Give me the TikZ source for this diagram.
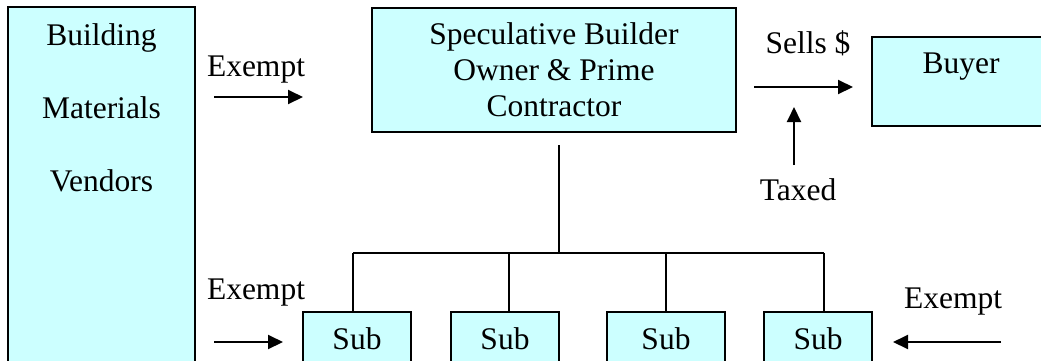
\documentclass[tikz,border=0pt]{standalone}
\usepackage{fontspec}
\setmainfont{LiberationSerif}[Extension=.ttf, UprightFont=*-Regular, BoldFont=*-Bold]
\usetikzlibrary{arrows.meta}
\definecolor{boxfill}{HTML}{CCFFFF}
\begin{document}
\begin{tikzpicture}[x=1pt,y=-1pt,
  box/.style={draw=black, line width=2pt, fill=boxfill, inner sep=0pt, outer sep=0pt},
  txt/.style={font=\rmfamily\fontsize{31.5}{36}\selectfont, inner sep=0pt, outer sep=0pt},
  arr/.style={line width=2pt, -{Triangle[length=15pt,width=14pt]}},
  conn/.style={line width=1.7pt}]
\useasboundingbox (0,0) rectangle (1041,360);
\clip (0,0) rectangle (1041,360);
% boxes
\node (vend) [box, minimum width=187pt, minimum height=393pt] at (101.5,203.5) {};
\node (vendt) [txt, align=center, font=\rmfamily\fontsize{31.5}{73}\selectfont] at (101.5,108) {Building\\Materials\\Vendors};
\node (spec) [box, minimum width=364pt, minimum height=124pt, align=center, txt] at (554,70) {Speculative Builder\\Owner \& Prime\\Contractor};
\node (buyer) [box, minimum width=178pt, minimum height=89pt] at (961,81.5) {};
\node (buyert) [txt, anchor=base] at (961,73) {Buyer};
\node (s1) [box, minimum width=108pt, minimum height=68pt] at (357,346) {};
\node (s2) [box, minimum width=108pt, minimum height=68pt] at (505,346) {};
\node (s3) [box, minimum width=118pt, minimum height=68pt] at (666,346) {};
\node (s4) [box, minimum width=108pt, minimum height=68pt] at (818,346) {};
\node (s1t) [txt, anchor=base] at (357,349) {Sub};
\node (s2t) [txt, anchor=base] at (505,349) {Sub};
\node (s3t) [txt, anchor=base] at (666,349) {Sub};
\node (s4t) [txt, anchor=base] at (818,349) {Sub};
% labels
\node (ex1) [txt, anchor=base] at (256,76) {Exempt};
\node (ex2) [txt, anchor=base] at (256,299) {Exempt};
\node (ex3) [txt, anchor=base] at (953,308) {Exempt};
\node (sells) [txt, anchor=base] at (808,53) {Sells \$};
\node (taxed) [txt, anchor=base] at (798,200) {Taxed};
% arrows
\coordinate (a1s) at (214,97);  \coordinate (a1e) at (303,97);
\coordinate (a2s) at (214,342); \coordinate (a2e) at (283,342);
\coordinate (a3s) at (754,87);  \coordinate (a3e) at (853,87);
\coordinate (a4s) at (794,165); \coordinate (a4e) at (794,107);
\coordinate (a5s) at (1001,342); \coordinate (a5e) at (893,342);
\draw[arr] (a1s) -- (a1e);
\draw[arr] (a2s) -- (a2e);
\draw[arr] (a3s) -- (a3e);
\draw[arr] (a4s) -- (a4e);
\draw[arr] (a5s) -- (a5e);
% tree
\coordinate (top) at (559,145);
\coordinate (hub) at (559,253);
\coordinate (d1) at (353,253);
\coordinate (d2) at (509,253);
\coordinate (d3) at (666,253);
\coordinate (d4) at (824,253);
\draw[conn] (top) -- (hub);
\draw[conn] (d1) -- (d4);
\draw[conn] (d1) -- (d1 |- s1.north);
\draw[conn] (d2) -- (d2 |- s2.north);
\draw[conn] (d3) -- (d3 |- s3.north);
\draw[conn] (d4) -- (d4 |- s4.north);
\end{tikzpicture}
\end{document}
